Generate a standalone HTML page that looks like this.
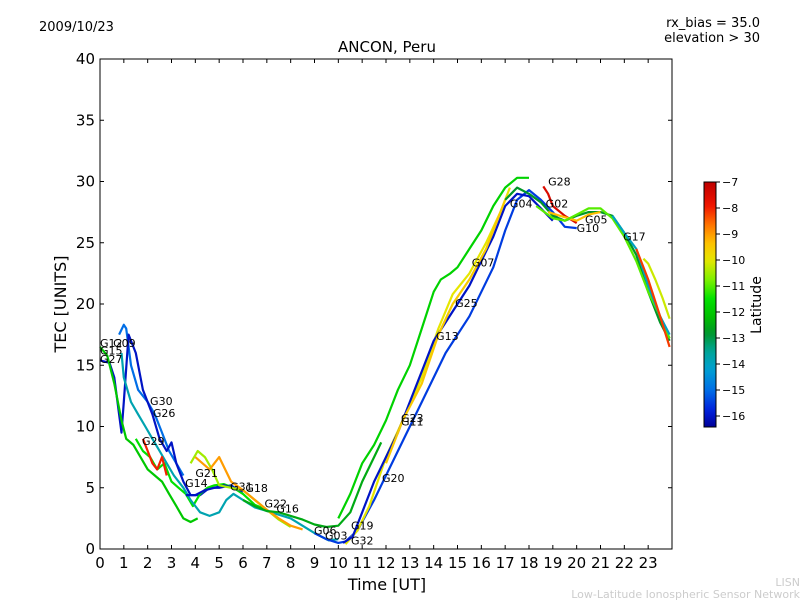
<!DOCTYPE html>
<html><head><meta charset="utf-8"><style>
body{margin:0;background:#fff;}
svg{display:block;font-family:"DejaVu Sans","Liberation Sans",sans-serif;}
</style></head><body>
<svg id="c" width="800" height="600">
<rect width="800" height="600" fill="#fff"/>
<text x="39" y="31" font-size="13">2009/10/23</text>
<text x="760" y="27" font-size="13" text-anchor="end">rx_bias = 35.0</text>
<text x="760" y="42" font-size="13" text-anchor="end">elevation &gt; 30</text>
<text x="387" y="52" font-size="15" text-anchor="middle">ANCON, Peru</text>
<g id="plot"></g>
<rect x="100" y="59" width="572" height="490" fill="none" stroke="#000" stroke-width="1"/>
<g id="axes"></g>
<text x="387" y="590" font-size="16" text-anchor="middle">Time [UT]</text>
<text transform="translate(66,304) rotate(-90)" font-size="16" text-anchor="middle">TEC [UNITS]</text>
<g id="cbar"></g>
<text transform="translate(761,305) rotate(-90)" font-size="14" text-anchor="middle">Latitude</text>
<text x="800" y="586" font-size="11" fill="#ccc" text-anchor="end">LISN</text>
<text x="800" y="598" font-size="11" fill="#ccc" text-anchor="end">Low-Latitude Ionospheric Sensor Network</text>
</svg>
<script>
const xTicks=[0,1,2,3,4,5,6,7,8,9,10,11,12,13,14,15,16,17,18,19,20,21,22,23];
const yTicks=[0,5,10,15,20,25,30,35,40];
const cTicks=[-7,-8,-9,-10,-11,-12,-13,-14,-15,-16];
const seriesLat=[-15,-16,-12,-11.5,-13.8,-16,-8,-10.5,-9,-12.5,-15.5,-11.8,-10,-16,-9.5,-12.8,-7.5,-9.3,-11,-14,-8.2,-10.2];
const seriesT=[
[0.8,1,1.1,1.3,1.6,2,2.3,2.6,2.9,3.2,3.5],
[0,0.4,0.6,0.8,0.9,1.0,1.2,1.5,1.8,2.2,2.5,2.8,3.0,3.2,3.5,3.8,4.2,4.6,5.0,5.5,6.0],
[0,0.3,0.6,0.9,1.1,1.4,1.7,2.0,2.3,2.6,2.9,3.2,3.5,3.8,4.1],
[1.5,1.8,2.1,2.4,2.7,3.0,3.3,3.6,3.9,4.2,4.5,4.8,5.2,5.6,6.0,6.5,7.0],
[0.9,1.0,1.3,1.6,1.9,2.2,2.5,2.8,3.1,3.5,3.8,4.2,4.6,5.0,5.3,5.6,6.0,6.5,7.0,8.0,9.0,9.6,10.0],
[3.6,4.0,4.4,4.8,5.2,5.6,6.0],
[1.8,2.0,2.2,2.4,2.6,2.8],
[3.8,4.1,4.4,4.7,5.0,5.5,6.0,6.5,7.0,7.5,8.0],
[4.0,4.3,4.6,5.0,5.5,6.0,6.5,7.0,7.5,8.0,8.5],
[6.0,6.5,7.0,7.5,8.0,8.5,9.0,9.5,10.0,10.5,11.0,11.5,11.8],
[9.0,9.5,10.0,10.3,10.8,11.5,12.5,13.5,14.5,15.5,16.5,17.0,17.5,18.0,18.5,19.0,19.5,20.0],
[10.0,10.5,11.0,11.5,12.0,12.5,13.0,13.5,14.0,14.3,14.7,15.0,15.5,16.0,16.5,17.0,17.5,18.0],
[10.3,10.8,11.3,12.0,12.7,13.5,14.2,14.8,15.5,16.2,16.8,17.2],
[10.2,10.6,11.0,11.5,12.0,12.5,13.0,13.5,14.0,14.5,15.0,15.5,16.0,16.5,17.0,17.5,18.0,18.5,19.0],
[12.0,12.7,13.5,14.2,14.8,15.5,16.2,16.7,17.0],
[17.0,17.5,18.0,18.5,19.0,19.5,20.0,20.5,21.0,21.5,22.0,22.5,23.0,23.5,23.9],
[18.6,18.8,19.0,19.5,20.0],
[18.8,19.3,20.0,20.5,21.0],
[18.3,19.0,19.5,20.0,20.5,21.0,21.5,22.0,22.5,23.0,23.5,23.9],
[21.5,22.0,22.5,23.0,23.5,23.9],
[22.5,23.0,23.5,23.9],
[22.8,23.0,23.3,23.6,23.9]];
const seriesV=[
[17.5,18.3,18,15,13,12,11,9.5,8,7,6],
[15.4,15.2,14,11,9.5,12,17.5,16,13,11,9,8,8.7,7,5.5,4.4,4.4,5,5,5.2,4.5],
[16.5,15.8,13.5,10.5,9,8.5,7.5,6.5,6,5.5,4.5,3.5,2.5,2.2,2.5],
[9,8,7.5,6.5,7,5.5,5,4.5,3.5,4.5,5,5.2,5.3,5,4.5,3.6,3.2],
[16,14,12,11,10,9,8,7,6,5,4,3,2.7,3,4,4.5,4,3.4,3.1,2.5,1.3,0.7,0.8],
[4.4,4.4,4.8,5.0,5.2,5.0,4.7],
[9,8,7,6.5,7.5,6],
[7,8,7.5,6.5,5.2,5,4.8,4,3.2,2.4,1.8],
[7.5,7,6.5,7.5,5.5,4.8,4.0,3.2,2.5,1.9,1.6],
[4,3.5,3.1,3,2.7,2.4,2.0,1.8,1.9,3,5.5,7.5,8.7],
[1.3,0.8,0.5,0.6,1.5,4,8,12,16,19,23,26,28.5,29.3,28.5,27.5,26.3,26.2],
[2.5,4.5,7,8.5,10.5,13,15,18,21,22,22.5,23,24.5,26,28,29.5,30.3,30.3],
[0.4,1.5,3.5,7.5,10.5,14,18,20.8,22.5,25,27.5,29.5],
[0.5,1.0,3,5.5,7.5,9.5,12,14.5,17,18.5,20,21.5,23.5,25.5,28,29,28.8,27.8,26.8],
[7,10.5,13.5,17.5,20,22,24.5,27,28.5],
[28.5,29.5,29.0,28.3,27.2,26.8,27.2,27.5,27.5,27.2,25.8,24,21,18.5,17],
[29.6,29,28,27.2,26.6],
[27.5,27.2,26.8,27.3,27.5],
[28,27,26.8,27.3,27.8,27.8,27.0,25.5,23.5,21,19,17.2],
[27.2,25.8,24.5,21.5,19,17.5],
[24.5,22,19,16.5],
[23.7,23.3,22,20.5,18.8]];
const labelNames=["G12","G09","G15","G27","G30","G26","G29","G21","G14","G31","G18","G22","G16","G06","G03","G19","G32","G20","G23","G11","G13","G25","G07","G04","G28","G02","G05","G10","G17"];
const labelT=[0,0.55,0,0,2.1,2.22,1.76,4.0,3.57,5.46,6.1,6.9,7.4,8.98,9.44,10.53,10.53,11.83,12.63,12.63,14.1,14.9,15.6,17.2,18.8,18.7,20.35,20.0,21.95];
const labelV=[16.8,16.8,16.2,15.5,12.1,11.1,8.8,6.2,5.4,5.1,5.0,3.7,3.3,1.5,1.1,1.9,0.7,5.8,10.7,10.4,17.4,20.1,23.4,28.2,30.0,28.2,26.9,26.2,25.5];

const X0=100,X1=672,Y0=549,Y1=59;
const xs=t=>X0+t*(X1-X0)/24;
const ys=v=>Y0-v*(Y0-Y1)/40;
const cTop=182,cBot=427;
const cs=l=>cTop+(-7-l)*26;
const NS="http://www.w3.org/2000/svg";
function mk(tag,attrs,parent){const e=document.createElementNS(NS,tag);for(const k in attrs)e.setAttribute(k,attrs[k]);parent.appendChild(e);return e;}
const cmapStops=[[-16.42,[0,0,150]],[-15.8,[0,30,220]],[-15,[0,110,230]],[-14.2,[0,160,210]],[-13.5,[0,165,150]],[-12.8,[0,150,40]],[-12.2,[0,190,0]],[-11.5,[0,225,0]],[-10.8,[120,240,0]],[-10,[230,230,0]],[-9.3,[255,190,0]],[-8.6,[255,110,0]],[-7.9,[240,20,0]],[-7,[190,0,0]]];
function jet(l){
 if(l<=cmapStops[0][0])return `rgb(${cmapStops[0][1].join(',')})`;
 for(let i=1;i<cmapStops.length;i++){if(l<=cmapStops[i][0]){const a=cmapStops[i-1],b=cmapStops[i];const f=(l-a[0])/(b[0]-a[0]);
  return `rgb(${a[1].map((c,k)=>Math.round(c+(b[1][k]-c)*f)).join(',')})`;}}
 return `rgb(${cmapStops[cmapStops.length-1][1].join(',')})`;}
const plot=document.getElementById('plot'),axes=document.getElementById('axes'),cbar=document.getElementById('cbar');
seriesT.forEach((ts,i)=>{
 const pts=ts.map((t,j)=>xs(t).toFixed(1)+','+ys(seriesV[i][j]).toFixed(1)).join(' ');
 const p=mk('polyline',{points:pts,fill:'none',stroke:jet(seriesLat[i]),'stroke-width':2.2,'stroke-linejoin':'round'},plot);
 
 
});
labelNames.forEach((n,i)=>{
 const t=mk('text',{x:xs(labelT[i]),y:ys(labelV[i])+4,'font-size':11},plot);t.textContent=n;
 
 
});
xTicks.forEach(v=>{const x=xs(v);
 mk('line',{x1:x,x2:x,y1:Y0,y2:Y0-4,stroke:'#000'},axes);mk('line',{x1:x,x2:x,y1:Y1,y2:Y1+4,stroke:'#000'},axes);
 const t=mk('text',{x:x,y:Y0+19,'font-size':15,'text-anchor':'middle'},axes);t.textContent=v;
 
 });
yTicks.forEach(v=>{const y=ys(v);
 mk('line',{x1:X0,x2:X0+4,y1:y,y2:y,stroke:'#000'},axes);mk('line',{x1:X1,x2:X1-4,y1:y,y2:y,stroke:'#000'},axes);
 const t=mk('text',{x:X0-5,y:y+5,'font-size':15,'text-anchor':'end'},axes);t.textContent=v;
 
 });
const defs=mk('defs',{},cbar);const gr=mk('linearGradient',{id:'jg',x1:0,y1:1,x2:0,y2:0},defs);
for(let k=0;k<=40;k++){mk('stop',{offset:k/40,'stop-color':jet(-16.42+k/40*9.42)},gr);}
const cr=mk('rect',{x:704,y:cTop,width:12,height:cBot-cTop,fill:'url(#jg)',stroke:'#000','stroke-width':1},cbar);


cTicks.forEach(v=>{const y=cs(v);mk('line',{x1:716,x2:720,y1:y,y2:y,stroke:'#000'},cbar);
 const t=mk('text',{x:722,y:y+4,'font-size':11},cbar);t.textContent='\u2212'+(-v);
 
 });
</script>
</body></html>
